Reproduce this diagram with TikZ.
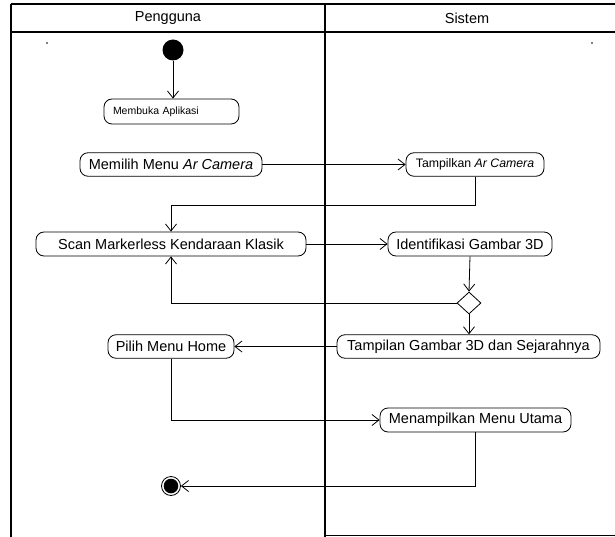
\documentclass[tikz,border=0pt]{standalone}
\usepackage{fontspec}
\setmainfont{Liberation Sans}
\usetikzlibrary
  {
    arrows.meta,       % open arrow heads
    shapes.geometric,  % decision diamond
    calc,
  }

\tikzset{
  lane/.style={line width=2.5pt},
  act/.style={draw, rounded corners=8pt, line width=0.8pt, inner sep=0pt,
              minimum height=23.5pt, font=\fontsize{14.5}{16}\selectfont},
  flow/.style={line width=0.8pt, -{Straight Barb[length=7pt,width=11pt]}},
  startnode/.style={circle, fill=black, minimum size=21pt, inner sep=0pt},
  endnode/.style={circle, draw, line width=0.8pt, minimum size=19pt, inner sep=0pt,
                  path picture={\fill (path picture bounding box.center) circle (7.3pt);}},
  decision/.style={diamond, draw, line width=0.8pt, minimum width=24pt,
                   minimum height=22pt, inner sep=0pt},
}

\begin{document}
\begin{tikzpicture}[x=1pt, y=-1pt, font=\fontsize{14.5}{16}\selectfont]
  \useasboundingbox (0,0) rectangle (615,537);

  % swimlanes
  \draw[lane] (11,4) -- (615,4);
  \draw[lane] (11,32) -- (615,32);
  \draw[lane] (11,4) -- (11,537);
  \draw[lane] (325,4) -- (325,537);
  \draw[line width=1.2pt] (325,535.5) -- (615,535.5);
  \node (pengguna) at (168,18) {Pengguna};
  \node (sistem) at (467,18) {Sistem};
  \fill (47,43) circle (0.8pt);
  \fill (592,43) circle (0.8pt);

  % activities
  \node[startnode] (start) at (173,50) {};
  \node[act, minimum width=135pt, minimum height=25pt, text width=117pt, align=left,
        inner xsep=9pt, font=\fontsize{10.5}{12}\selectfont] (membuka) at (171.5,111.5) {Membuka Aplikasi};
  \node[act, minimum width=182pt] (memilih) at (171,164.5) {Memilih Menu \textit{Ar Camera}};
  \node[act, minimum width=138pt, font=\fontsize{12.3}{14}\selectfont] (tampilkan) at (475,164.5) {Tampilkan \textit{Ar Camera}};
  \node[act, minimum width=270pt, minimum height=24pt] (scan) at (171,244) {Scan Markerless Kendaraan Klasik};
  \node[act, minimum width=164pt, minimum height=24pt] (identifikasi) at (470,244) {Identifikasi Gambar 3D};
  \node[decision] (cek) at (469,303) {};
  \node[act, minimum width=263pt] (tampilan) at (468.5,346.5) {Tampilan Gambar 3D dan Sejarahnya};
  \node[act, minimum width=126pt] (pilih) at (171,346.5) {Pilih Menu Home};
  \node[act, minimum width=191pt, minimum height=24pt] (menu) at (475.5,420) {Menampilkan Menu Utama};
  \node[endnode] (end) at (171,486) {};

  % flows
  \draw[flow] (start.south) -- (start.south |- membuka.north);
  \draw[flow] (memilih.east) -- (tampilkan.west);
  \draw[flow] (tampilkan.south) -- ++(0,29) -| (scan.north);
  \draw[flow] (scan.east) -- (identifikasi.west);
  \draw[flow] (identifikasi.south) -- (cek.north);
  \draw[flow] (cek.west) -| (scan.south);
  \draw[flow] (cek.south) -- (cek.south |- tampilan.north);
  \draw[flow] (tampilan.west) -- (pilih.east);
  \draw[flow] (pilih.south) |- (menu.west);
  \draw[flow] (menu.south) |- (end.east);
\end{tikzpicture}
\end{document}
